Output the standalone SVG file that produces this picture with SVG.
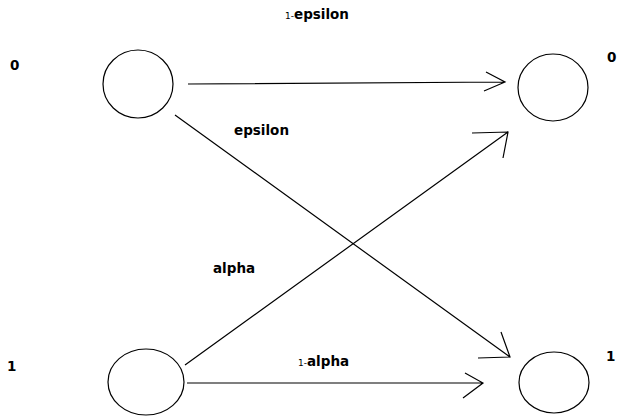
<svg xmlns="http://www.w3.org/2000/svg" width="617" height="417" viewBox="0 0 617 417">
<style>
.n{fill:none;stroke:#000;stroke-width:1.2}
.e{fill:none;stroke:#000;stroke-width:1.2}
.t{font-family:"DejaVu Sans",sans-serif;font-weight:bold;font-size:13.5px;fill:#000}
.s{font-size:9px;font-weight:normal}
</style>
<rect width="617" height="417" fill="#fff"/>
<g id="node-top-left"><ellipse class="n" cx="138" cy="84" rx="35" ry="34"/><text class="t" x="10" y="70">0</text></g>
<g id="node-top-right"><ellipse class="n" cx="553" cy="87.5" rx="35" ry="33.5"/><text class="t" x="607" y="62">0</text></g>
<g id="node-bottom-left"><ellipse class="n" cx="146" cy="382" rx="38" ry="33"/><text class="t" x="7" y="371">1</text></g>
<g id="node-bottom-right"><ellipse class="n" cx="554" cy="382.5" rx="35" ry="30.5"/><text class="t" x="606" y="361">1</text></g>
<g id="connectors">
<path class="e" d="M188 84 L505 82 M486 72 L505 82 L484 91"/>
<path class="e" d="M175 115 L510 357 M478 358 L510 357 L501 332"/>
<path class="e" d="M185 365 L508 132 M472 133 L508 132 L503 158"/>
<path class="e" d="M187 383 L483 383 M465 373 L483 383 L463 398"/>
<text class="t" x="285" y="19"><tspan class="s">1-</tspan>epsilon</text>
<text class="t" x="234" y="135">epsilon</text>
<text class="t" x="213" y="273">alpha</text>
<text class="t" x="298" y="366"><tspan class="s">1-</tspan>alpha</text>
</g>
</svg>
